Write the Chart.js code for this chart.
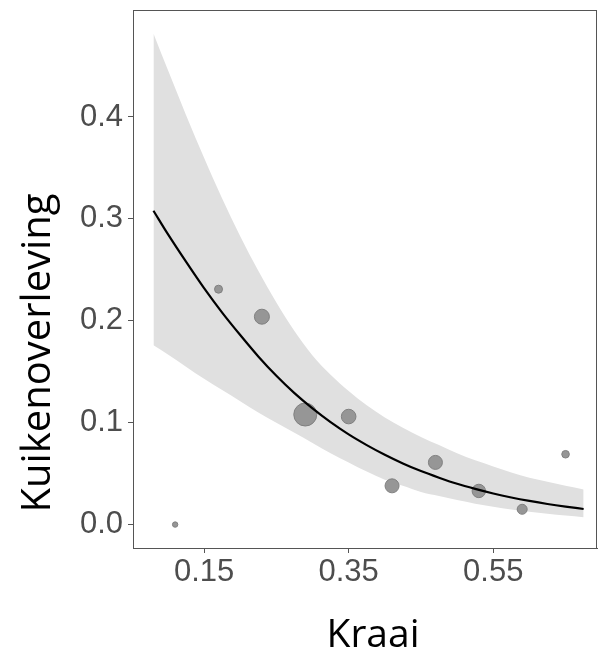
<!DOCTYPE html>
<html>
<head>
<meta charset="utf-8">
<script src="https://cdn.jsdelivr.net/npm/chart.js@4.4.0/dist/chart.umd.min.js"></script>
<style>
  html, body { margin: 0; padding: 0; background: #fff; }
  #wrap { width: 600px; height: 658px; }
</style>
</head>
<body>
<div id="wrap"><canvas id="myChart" width="600" height="658"></canvas></div>
<script>
// observed points (Kraai vs Kuikenoverleving), bubble radius = sample weight
let kraai = [0.11, 0.17, 0.23, 0.29, 0.35, 0.41, 0.47, 0.53, 0.59, 0.65]
let overleving = [0.0, 0.231, 0.204, 0.108, 0.106, 0.038, 0.061, 0.033, 0.015, 0.069]
let weight = [2.7, 4, 7.5, 11.5, 7.3, 7, 7, 6.7, 5, 3.8]

// fitted curve and confidence band
let fitX = [0.08, 0.10, 0.125, 0.15, 0.175, 0.20, 0.225, 0.25, 0.275, 0.30, 0.325, 0.35, 0.375,
            0.40, 0.425, 0.45, 0.475, 0.50, 0.525, 0.55, 0.575, 0.60, 0.625, 0.65, 0.675]
let fitY = [0.308, 0.285, 0.258, 0.232, 0.208, 0.186, 0.165, 0.146, 0.129, 0.114, 0.1005, 0.0885, 0.078,
            0.0685, 0.060, 0.0525, 0.046, 0.040, 0.035, 0.0305, 0.0266, 0.0232, 0.0202, 0.0176, 0.0153]
let upperY = [0.482, 0.446, 0.402, 0.360, 0.320, 0.283, 0.249, 0.218, 0.190, 0.166, 0.147, 0.131, 0.117,
              0.105, 0.095, 0.086, 0.078, 0.070, 0.063, 0.057, 0.051, 0.046, 0.042, 0.038, 0.0345]
let lowerY = [0.176, 0.167, 0.155, 0.143, 0.132, 0.121, 0.110, 0.100, 0.090, 0.080, 0.070, 0.061, 0.052,
              0.044, 0.038, 0.032, 0.028, 0.024, 0.0205, 0.0175, 0.0148, 0.0125, 0.0105, 0.0088, 0.0072]

let xTicks = [0.15, 0.35, 0.55]
let yTicks = [0.0, 0.1, 0.2, 0.3, 0.4]

let xTitle = 'Kraai'
let yTitle = 'Kuikenoverleving'

function pairs(xs, ys) {
  let out = []
  for (let i = 0; i < xs.length; i++) {
    out.push({ x: xs[i], y: ys[i] })
  }
  return out
}

let points = []
for (let i = 0; i < kraai.length; i++) {
  points.push({ x: kraai[i], y: overleving[i], r: weight[i] })
}

// box round the panel + axis titles
let panelPlugin = {
  id: 'panel',
  afterDraw(chart) {
    let ctx = chart.ctx
    let ca = chart.chartArea
    ctx.save()
    ctx.strokeStyle = '#555555'
    ctx.lineWidth = 1
    ctx.strokeRect(Math.round(ca.left) + 0.5, Math.round(ca.top) + 0.5,
                   Math.round(ca.right - ca.left) - 1, Math.round(ca.bottom - ca.top))

    ctx.fillStyle = '#000'
    ctx.font = '39px "Open Sans"'
    ctx.textAlign = 'center'
    ctx.textBaseline = 'alphabetic'
    ctx.fillText(xTitle, (ca.left + ca.right) / 2 + 8, 647)

    ctx.font = '40px "Open Sans"'
    ctx.translate(50, 353)
    ctx.rotate(-Math.PI / 2)
    ctx.fillText(yTitle, 0, 0)
    ctx.restore()
  }
}

// ticks are set by hand, so drop the edge padding chart.js adds for them
function noEdgePadding(scale) {
  scale.paddingTop = 0
  scale.paddingBottom = 0
  scale.paddingLeft = 0
  scale.paddingRight = 0
}

let tickFont = { family: '"Liberation Sans", Arial, sans-serif', size: 31 }

let ctx = document.getElementById('myChart').getContext('2d')

let myChart = new Chart(ctx, {
  type: 'line',
  data: {
    datasets: [
      {
        label: 'upper',
        data: pairs(fitX, upperY),
        borderWidth: 0,
        borderColor: 'rgba(0,0,0,0)',
        backgroundColor: '#e0e0e0',
        pointRadius: 0,
        cubicInterpolationMode: 'monotone',
        fill: '+1',
        order: 3
      },
      {
        label: 'lower',
        data: pairs(fitX, lowerY),
        borderWidth: 0,
        borderColor: 'rgba(0,0,0,0)',
        pointRadius: 0,
        cubicInterpolationMode: 'monotone',
        fill: false,
        order: 3
      },
      {
        type: 'bubble',
        label: 'punten',
        data: points,
        backgroundColor: '#969696',
        borderColor: '#808080',
        borderWidth: 1,
        order: 1
      },
      {
        label: 'fit',
        data: pairs(fitX, fitY),
        borderColor: '#000',
        borderWidth: 2.2,
        pointRadius: 0,
        fill: false,
        cubicInterpolationMode: 'monotone',
        order: 0
      }
    ]
  },
  options: {
    responsive: false,
    animation: false,
    events: [],
    layout: { autoPadding: false, padding: { top: 10, right: 3, left: 0, bottom: 0 } },
    plugins: {
      legend: { display: false },
      tooltip: { enabled: false }
    },
    scales: {
      x: {
        type: 'linear',
        min: 0.0517,
        max: 0.6935,
        afterBuildTicks: scale => { scale.ticks = xTicks.map(v => ({ value: v })) },
        afterFit: scale => { scale.height = 110; noEdgePadding(scale) },
        ticks: {
          font: tickFont,
          color: '#4d4d4d',
          padding: 1,
          maxRotation: 0,
          callback: v => v.toFixed(2)
        },
        grid: { drawOnChartArea: false, drawTicks: true, tickLength: 5, tickColor: '#555555' },
        border: { display: true, color: '#555555', width: 1 }
      },
      y: {
        type: 'linear',
        min: -0.023,
        max: 0.505,
        afterBuildTicks: scale => { scale.ticks = yTicks.map(v => ({ value: v })) },
        afterFit: scale => { scale.width = 133; noEdgePadding(scale) },
        ticks: {
          font: tickFont,
          color: '#4d4d4d',
          padding: 5,
          callback: v => v.toFixed(1)
        },
        grid: { drawOnChartArea: false, drawTicks: true, tickLength: 5, tickColor: '#555555' },
        border: { display: true, color: '#555555', width: 1 }
      }
    }
  },
  plugins: [panelPlugin]
})
</script>
</body>
</html>
